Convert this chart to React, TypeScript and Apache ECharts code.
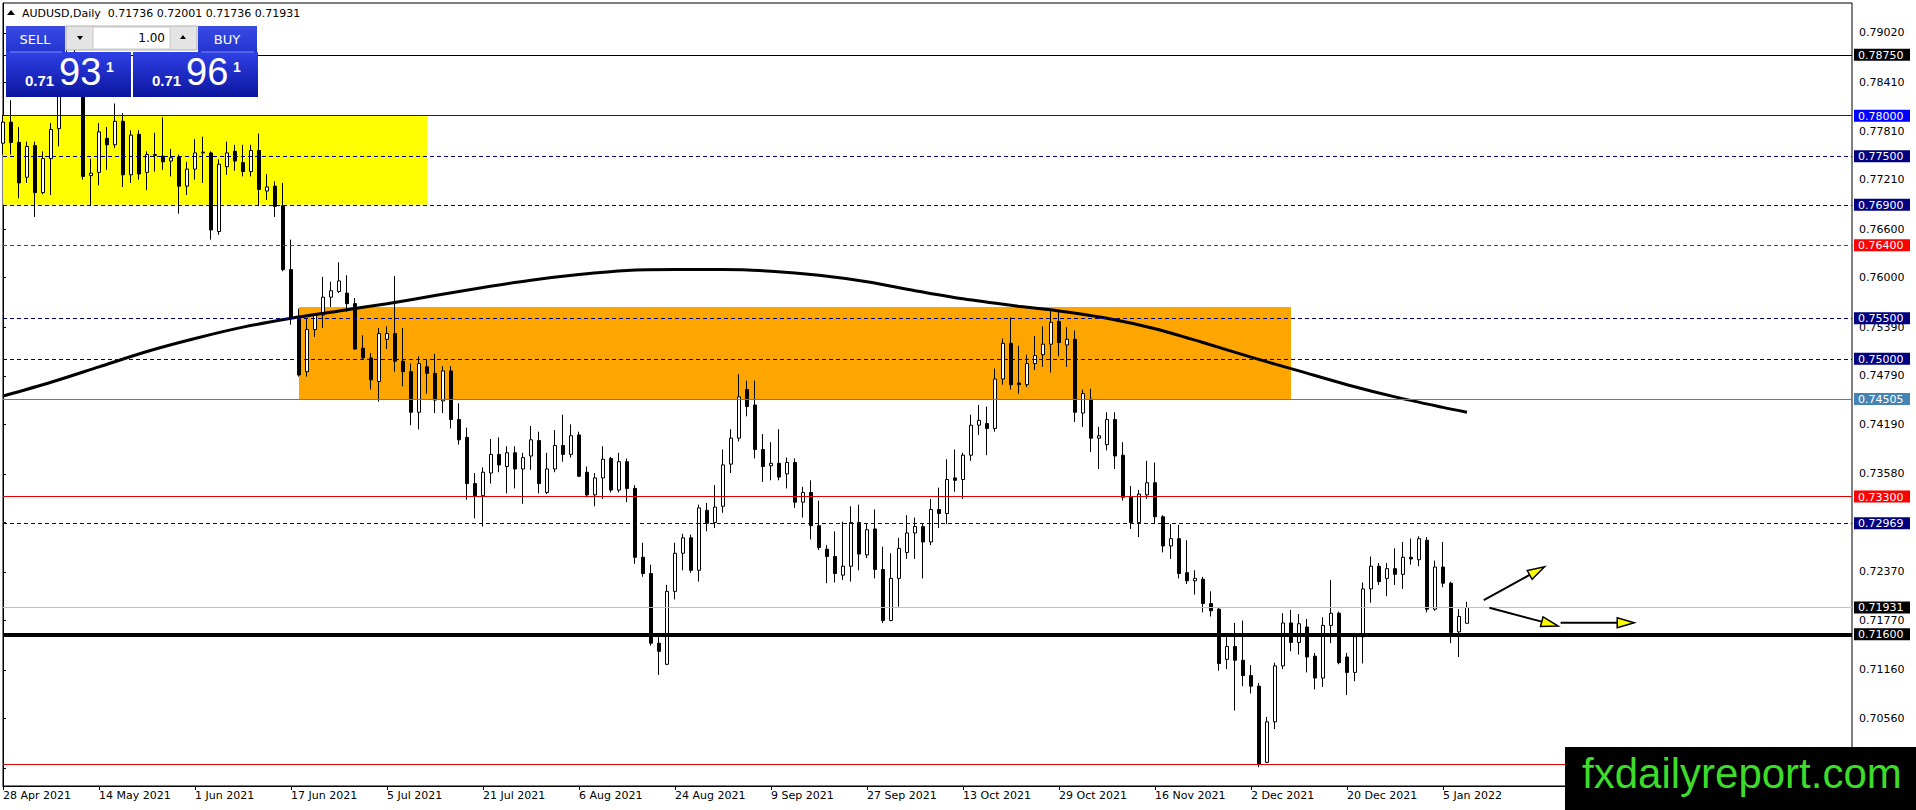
import React, { useEffect, useRef } from "react";
import * as echarts from "echarts";

// ---------- data (AUDUSD daily, bar index 0 = 28 Apr 2021) ----------
const opens = [
  0.7766, 0.7792, 0.7767, 0.7724, 0.7763, 0.7705, 0.7747, 0.7784, 0.7832, 0.7868,
  0.7842, 0.7726, 0.7730, 0.7772, 0.7764, 0.7793, 0.7727, 0.7777, 0.7730, 0.7752,
  0.7750, 0.7744, 0.7749, 0.7713, 0.7734, 0.7754, 0.7754, 0.7657, 0.7737, 0.7756,
  0.7742, 0.7731, 0.7757, 0.7707, 0.7713, 0.7689, 0.7610, 0.7551, 0.7484, 0.7536,
  0.7554, 0.7576, 0.7583, 0.7581, 0.7568, 0.7513, 0.7501, 0.7472, 0.7524, 0.7531,
  0.7497, 0.7484, 0.7434, 0.7490, 0.7482, 0.7448, 0.7485, 0.7425, 0.7403, 0.7346,
  0.7331, 0.7359, 0.7382, 0.7367, 0.7384, 0.7364, 0.7380, 0.7399, 0.7335, 0.7364,
  0.7393, 0.7382, 0.7406, 0.7360, 0.7332, 0.7353, 0.7377, 0.7338, 0.7373, 0.7340,
  0.7255, 0.7235, 0.7149, 0.7123, 0.7213, 0.7260, 0.7279, 0.7239, 0.7313, 0.7298,
  0.7318, 0.7370, 0.7402, 0.7462, 0.7443, 0.7388, 0.7368, 0.7371, 0.7358, 0.7372,
  0.7323, 0.7335, 0.7294, 0.7265, 0.7256, 0.7233, 0.7244, 0.7298, 0.7258, 0.7290,
  0.7240, 0.7177, 0.7229, 0.7261, 0.7285, 0.7293, 0.7274, 0.7314, 0.7309, 0.7353,
  0.7351, 0.7381, 0.7418, 0.7420, 0.7414, 0.7475, 0.7519, 0.7470, 0.7468, 0.7494,
  0.7505, 0.7518, 0.7546, 0.7517, 0.7524, 0.7433, 0.7450, 0.7402, 0.7394, 0.7425,
  0.7381, 0.7330, 0.7298, 0.7332, 0.7347, 0.7305, 0.7269, 0.7278, 0.7236, 0.7226,
  0.7228, 0.7198, 0.7191, 0.7129, 0.7145, 0.7128, 0.7109, 0.7096, 0.7002, 0.7052,
  0.7121, 0.7174, 0.7150, 0.7169, 0.7133, 0.7106, 0.7171, 0.7186, 0.7132, 0.7113,
  0.7157, 0.7216, 0.7244, 0.7229, 0.7241, 0.7234, 0.7255, 0.7252, 0.7276, 0.7191,
  0.7243, 0.7223, 0.7163, 0.71736,
];
const highs = [
  0.7801, 0.7819, 0.7786, 0.7768, 0.7768, 0.7756, 0.7791, 0.7842, 0.7889, 0.7885,
  0.7855, 0.7747, 0.7791, 0.7786, 0.7815, 0.7803, 0.7782, 0.7782, 0.7756, 0.7779,
  0.7798, 0.7759, 0.7752, 0.7743, 0.7771, 0.7774, 0.7756, 0.7746, 0.7768, 0.7764,
  0.7764, 0.7764, 0.7778, 0.7728, 0.7719, 0.7717, 0.7647, 0.7562, 0.7550, 0.7556,
  0.7601, 0.7595, 0.7619, 0.7603, 0.7575, 0.7529, 0.7507, 0.7538, 0.7540, 0.7602,
  0.7538, 0.7494, 0.7503, 0.7499, 0.7506, 0.7491, 0.7491, 0.7445, 0.7415, 0.7359,
  0.7366, 0.7401, 0.7403, 0.7392, 0.7392, 0.7384, 0.7417, 0.7410, 0.7384, 0.7412,
  0.7431, 0.7419, 0.7410, 0.7367, 0.7359, 0.7392, 0.7379, 0.7384, 0.7377, 0.7344,
  0.7273, 0.7246, 0.7159, 0.7221, 0.7273, 0.7284, 0.7283, 0.7320, 0.7322, 0.7344,
  0.7388, 0.7413, 0.7481, 0.7473, 0.7473, 0.7407, 0.7397, 0.7413, 0.7378, 0.7377,
  0.7342, 0.7350, 0.7325, 0.7270, 0.7287, 0.7299, 0.7318, 0.7320, 0.7297, 0.7314,
  0.7268, 0.7260, 0.7279, 0.7307, 0.7304, 0.7297, 0.7327, 0.7341, 0.7376, 0.7388,
  0.7384, 0.7431, 0.7443, 0.7441, 0.7488, 0.7525, 0.7551, 0.7516, 0.7505, 0.7528,
  0.7540, 0.7559, 0.7559, 0.7539, 0.7535, 0.7462, 0.7463, 0.7416, 0.7434, 0.7434,
  0.7397, 0.7343, 0.7338, 0.7374, 0.7372, 0.7307, 0.7296, 0.7295, 0.7276, 0.7239,
  0.7231, 0.7213, 0.7193, 0.7158, 0.7174, 0.7177, 0.7122, 0.7100, 0.7058, 0.7125,
  0.7186, 0.7190, 0.7185, 0.7179, 0.7137, 0.7181, 0.7227, 0.7188, 0.7137, 0.7158,
  0.7224, 0.7256, 0.7248, 0.7248, 0.7266, 0.7274, 0.7278, 0.7281, 0.7280, 0.7251,
  0.7274, 0.7225, 0.7191, 0.72001,
];
const lows = [
  0.7752, 0.7752, 0.7698, 0.7717, 0.7675, 0.7703, 0.7702, 0.7762, 0.7826, 0.7830,
  0.7721, 0.7689, 0.7714, 0.7733, 0.7760, 0.7712, 0.7717, 0.7721, 0.7708, 0.7731,
  0.7733, 0.7725, 0.7679, 0.7702, 0.7721, 0.7717, 0.7647, 0.7653, 0.7727, 0.7732,
  0.7725, 0.7725, 0.7689, 0.7696, 0.7675, 0.7608, 0.7542, 0.7478, 0.7478, 0.7527,
  0.7538, 0.7564, 0.7581, 0.7558, 0.7511, 0.7499, 0.7462, 0.7447, 0.7512, 0.7484,
  0.7466, 0.7418, 0.7413, 0.7457, 0.7433, 0.7433, 0.7414, 0.7394, 0.7326, 0.7303,
  0.7293, 0.7346, 0.7360, 0.7334, 0.7340, 0.7321, 0.7363, 0.7334, 0.7333, 0.7360,
  0.7373, 0.7378, 0.7354, 0.7329, 0.7318, 0.7327, 0.7335, 0.7335, 0.7323, 0.7247,
  0.7231, 0.7146, 0.7110, 0.7122, 0.7203, 0.7239, 0.7236, 0.7225, 0.7287, 0.7291,
  0.7310, 0.7359, 0.7398, 0.7429, 0.7377, 0.7348, 0.7350, 0.7350, 0.7340, 0.7316,
  0.7304, 0.7277, 0.7264, 0.7223, 0.7224, 0.7227, 0.7225, 0.7239, 0.7254, 0.7229,
  0.7174, 0.7176, 0.7194, 0.7253, 0.7253, 0.7229, 0.7270, 0.7291, 0.7296, 0.7336,
  0.7327, 0.7374, 0.7406, 0.7381, 0.7410, 0.7468, 0.7462, 0.7457, 0.7465, 0.7486,
  0.7490, 0.7483, 0.7503, 0.7490, 0.7422, 0.7416, 0.7385, 0.7364, 0.7387, 0.7364,
  0.7325, 0.7290, 0.7280, 0.7327, 0.7296, 0.7261, 0.7253, 0.7229, 0.7222, 0.7209,
  0.7187, 0.7182, 0.7115, 0.7117, 0.7066, 0.7096, 0.7087, 0.6996, 0.7001, 0.7043,
  0.7117, 0.7139, 0.7135, 0.7113, 0.7092, 0.7095, 0.7149, 0.7123, 0.7085, 0.7102,
  0.7124, 0.7199, 0.7221, 0.7207, 0.7221, 0.7216, 0.7246, 0.7244, 0.7187, 0.7189,
  0.7218, 0.7149, 0.7132, 0.71736,
];
const closes = [
  0.7792, 0.7767, 0.7717, 0.7762, 0.7705, 0.7747, 0.7783, 0.7832, 0.7868, 0.7842,
  0.7725, 0.7729, 0.7780, 0.7764, 0.7793, 0.7727, 0.7776, 0.7728, 0.7752, 0.7751,
  0.7743, 0.7748, 0.7713, 0.7734, 0.7754, 0.7755, 0.7659, 0.7740, 0.7754, 0.7744,
  0.7731, 0.7757, 0.7709, 0.7712, 0.7688, 0.7610, 0.7551, 0.7480, 0.7536, 0.7554,
  0.7576, 0.7584, 0.7596, 0.7568, 0.7512, 0.7501, 0.7474, 0.7531, 0.7531, 0.7497,
  0.7484, 0.7434, 0.7494, 0.7482, 0.7449, 0.7485, 0.7425, 0.7400, 0.7346, 0.7331,
  0.7360, 0.7382, 0.7369, 0.7384, 0.7364, 0.7378, 0.7400, 0.7346, 0.7364, 0.7393,
  0.7382, 0.7405, 0.7355, 0.7332, 0.7353, 0.7376, 0.7338, 0.7373, 0.7340, 0.7255,
  0.7235, 0.7149, 0.7139, 0.7213, 0.7260, 0.7279, 0.7239, 0.7316, 0.7297, 0.7317,
  0.7369, 0.7402, 0.7453, 0.7441, 0.7388, 0.7367, 0.7371, 0.7354, 0.7372, 0.7323,
  0.7335, 0.7294, 0.7267, 0.7256, 0.7235, 0.7244, 0.7298, 0.7259, 0.7289, 0.7240,
  0.7177, 0.7229, 0.7266, 0.7285, 0.7293, 0.7274, 0.7314, 0.7309, 0.7351, 0.7350,
  0.7381, 0.7418, 0.7424, 0.7414, 0.7475, 0.7519, 0.7468, 0.7468, 0.7494, 0.7504,
  0.7518, 0.7545, 0.7520, 0.7524, 0.7434, 0.7457, 0.7402, 0.7405, 0.7425, 0.7380,
  0.7329, 0.7298, 0.7333, 0.7347, 0.7305, 0.7269, 0.7278, 0.7235, 0.7226, 0.7229,
  0.7198, 0.7189, 0.7124, 0.7145, 0.7128, 0.7109, 0.7096, 0.7000, 0.7052, 0.7121,
  0.7174, 0.7150, 0.7173, 0.7132, 0.7106, 0.7171, 0.7186, 0.7125, 0.7113, 0.7157,
  0.7216, 0.7244, 0.7225, 0.7241, 0.7234, 0.7255, 0.7253, 0.7278, 0.7191, 0.7243,
  0.7223, 0.7162, 0.7182, 0.71931,
];

// moving average, sampled at bar indices
const maIdx = [0, 6, 12, 18, 24, 30, 36, 42, 48, 54, 60, 66, 72, 78, 84, 90, 96, 102, 108, 114, 120, 126, 132, 138, 144, 150, 156, 162, 168, 174, 180, 183];
const maVal = [0.7454, 0.7471, 0.7490, 0.7509, 0.7525, 0.7539, 0.7550, 0.7559, 0.7568, 0.7578, 0.7588, 0.7597, 0.7604, 0.7609, 0.7610, 0.7610, 0.7608, 0.7603, 0.7595, 0.7584, 0.7574, 0.7566, 0.7559, 0.7550, 0.7537, 0.7520, 0.7502, 0.7485, 0.7468, 0.7453, 0.7440, 0.7434];

// x-axis tick labels
const xTickIdx = [0, 12, 24, 36, 48, 60, 72, 84, 96, 108, 120, 132, 144, 156, 168, 180];
const xTickLabels = [
  "28 Apr 2021", "14 May 2021", "1 Jun 2021", "17 Jun 2021", "5 Jul 2021", "21 Jul 2021",
  "6 Aug 2021", "24 Aug 2021", "9 Sep 2021", "27 Sep 2021", "13 Oct 2021", "29 Oct 2021",
  "16 Nov 2021", "2 Dec 2021", "20 Dec 2021", "5 Jan 2022",
];

// price-axis tick labels
const yTickLabels = [0.7902, 0.7841, 0.7781, 0.7721, 0.766, 0.76, 0.7539, 0.7479, 0.7419, 0.7358, 0.7237, 0.7177, 0.7116, 0.7056];
const yTickMarks = [0.7902, 0.7841, 0.7781, 0.7721, 0.766, 0.76, 0.7539, 0.7479, 0.7419, 0.7358, 0.7298, 0.7237, 0.7177, 0.7116, 0.7056, 0.6995];

// horizontal levels
const levelPrices = [0.7875, 0.78, 0.775, 0.769, 0.764, 0.755, 0.75, 0.74505, 0.733, 0.72969, 0.71931, 0.716, 0.70];
const boxPrices = [0.7875, 0.78, 0.775, 0.769, 0.764, 0.755, 0.75, 0.74505, 0.733, 0.72969, 0.71931, 0.716];

// zones: [fromIdx, toIdx, topPrice, bottomPrice]
const yellowZone = [0, 53, 0.78, 0.769];
const orangeZone = [37, 161, 0.7564, 0.74505];

// arrows: [fromIdx, fromPrice, toIdx, toPrice]
const arrows = [
  [185.1, 0.72023, 192.7, 0.72434],
  [185.8, 0.71928, 194.4, 0.71702],
  [194.7, 0.71743, 203.9, 0.71743],
];

// ---------- styles ----------
const FONT = '"DejaVu Sans", Verdana, sans-serif';
const NAVY = "#000080";
const RED = "#ff0000";
const LEVEL_LINE = [
  { color: "#000000", width: 1, type: "solid" },
  { color: "#1010c8", width: 1, type: "solid" },
  { color: NAVY, width: 1, type: [4, 3] },
  { color: NAVY, width: 1, type: [4, 3] },
  { color: RED, width: 1, type: [4, 3] },
  { color: NAVY, width: 1, type: [4, 3] },
  { color: NAVY, width: 1, type: [4, 3] },
  { color: "#4682b4", width: 1, type: "solid" },
  { color: "#e00000", width: 1, type: "solid" },
  { color: NAVY, width: 1, type: [4, 3] },
  { color: "#c0c0c0", width: 1, type: "solid" },
  { color: "#000000", width: 4, type: "solid" },
  { color: "#e00000", width: 1, type: "solid" },
];
const BOX_COLORS = ["#000000", "#0000ff", NAVY, NAVY, RED, NAVY, NAVY, "#4682b4", RED, NAVY, "#000000", "#000000"];

const Y_MIN = 0.69728;
const Y_MAX = 0.7939;
const X_MIN = 0;
const X_MAX = 231.125;

export default function App() {
  const ref = useRef<HTMLDivElement>(null);

  useEffect(() => {
    document.body.style.margin = "0";
    const chart = echarts.init(ref.current as HTMLDivElement, null, { renderer: "svg" });

    const last = opens.length - 1;
    const header = `AUDUSD,Daily  ${opens[last].toFixed(5)} ${highs[last].toFixed(5)} ${lows[last].toFixed(5)} ${closes[last].toFixed(5)}`;

    const rich: Record<string, any> = {};
    boxPrices.forEach((_, i) => {
      rich["b" + i] = {
        backgroundColor: BOX_COLORS[i],
        color: "#ffffff",
        fontSize: 11,
        fontFamily: FONT,
        lineHeight: 13,
        padding: [1, 4, 0, 4],
        width: 48,
      };
    });

    const blueTab = {
      type: "linear", x: 0, y: 0, x2: 0, y2: 1,
      colorStops: [{ offset: 0, color: "#3a4be4" }, { offset: 1, color: "#2334cf" }],
    };
    const blueBox = {
      type: "linear", x: 0, y: 0, x2: 0, y2: 1,
      colorStops: [{ offset: 0, color: "#2f40e6" }, { offset: 1, color: "#0c169e" }],
    };
    const priceBox = (x0: number, big: string) => [
      { type: "rect", shape: { x: x0, y: 52, width: 125, height: 45 }, style: { fill: blueBox }, z: 100 },
      { type: "text", x: x0 + 19, y: 88, style: { text: "0.71", fill: "#fff", font: 'bold 15px "Liberation Sans", Arial, sans-serif', textVerticalAlign: "bottom" }, z: 101 },
      { type: "text", x: x0 + 53, y: 91, style: { text: big, fill: "#fff", font: '38px "Liberation Sans", Arial, sans-serif', textVerticalAlign: "bottom" }, z: 101 },
      { type: "text", x: x0 + 100, y: 60, style: { text: "1", fill: "#fff", font: 'bold 14px "Liberation Sans", Arial, sans-serif', textVerticalAlign: "top" }, z: 101 },
    ];

    const graphics: any[] = [
      { type: "polygon", shape: { points: [[7, 15], [15, 15], [11, 10]] }, style: { fill: "#000" }, z: 100 },
      { type: "text", x: 22, y: 13, style: { text: header, fill: "#000", font: `11px ${FONT}`, textVerticalAlign: "middle" }, z: 100 },
      // SELL tab
      { type: "rect", shape: { x: 6, y: 26, width: 59, height: 26 }, style: { fill: blueTab }, z: 100 },
      { type: "text", x: 35, y: 39, style: { text: "SELL", fill: "#fff", font: `13px ${FONT}`, textAlign: "center", textVerticalAlign: "middle" }, z: 101 },
      // BUY tab
      { type: "rect", shape: { x: 198, y: 26, width: 59, height: 26 }, style: { fill: blueTab }, z: 100 },
      { type: "text", x: 227, y: 39, style: { text: "BUY", fill: "#fff", font: `13px ${FONT}`, textAlign: "center", textVerticalAlign: "middle" }, z: 101 },
      // lot control
      { type: "rect", shape: { x: 66, y: 26, width: 131, height: 24 }, style: { fill: "#e4e4e4", stroke: "#b0b0b0", lineWidth: 1 }, z: 100 },
      { type: "rect", shape: { x: 93, y: 27, width: 77, height: 22 }, style: { fill: "#ffffff", stroke: "#c8c8c8", lineWidth: 1 }, z: 101 },
      { type: "polygon", shape: { points: [[77, 36], [83, 36], [80, 40]] }, style: { fill: "#000" }, z: 101 },
      { type: "polygon", shape: { points: [[180, 39], [186, 39], [183, 35]] }, style: { fill: "#000" }, z: 101 },
      { type: "text", x: 165, y: 38, style: { text: "1.00", fill: "#000", font: `12px ${FONT}`, textAlign: "right", textVerticalAlign: "middle" }, z: 102 },
      ...priceBox(6, "93"),
      ...priceBox(133, "96"),
      { type: "line", shape: { x1: 10, y1: 52, x2: 62, y2: 52 }, style: { stroke: "#7d8cf2", lineWidth: 1 }, z: 102 },
      { type: "line", shape: { x1: 201, y1: 52, x2: 254, y2: 52 }, style: { stroke: "#7d8cf2", lineWidth: 1 }, z: 102 },
      // watermark
      { type: "rect", shape: { x: 1565, y: 747, width: 351, height: 63 }, style: { fill: "#000" }, z: 100 },
      { type: "text", x: 1582, y: 773, style: { text: "fxdailyreport.com", fill: "#3ddc2a", font: '42px "Liberation Sans", Arial, sans-serif', textVerticalAlign: "middle" }, z: 101 },
    ];

    const option: any = {
      animation: false,
      backgroundColor: "#ffffff",
      textStyle: { fontFamily: FONT },
      grid: {
        left: 3, top: 3, width: 1849, height: 783,
        show: true, borderColor: "#000", borderWidth: 1, backgroundColor: "#fff",
        containLabel: false,
      },
      xAxis: {
        type: "value", min: X_MIN, max: X_MAX,
        axisLine: { show: true, lineStyle: { color: "#000" } },
        splitLine: { show: false },
        axisTick: { show: true, customValues: xTickIdx, length: 4, lineStyle: { color: "#000" } },
        axisLabel: {
          customValues: xTickIdx,
          formatter: (v: number) => {
            const i = xTickIdx.indexOf(Math.round(v));
            return i >= 0 ? xTickLabels[i] : "";
          },
          align: "left", margin: 4, fontSize: 11, color: "#000", fontFamily: FONT,
        },
      },
      yAxis: [
        {
          type: "value", position: "right", min: Y_MIN, max: Y_MAX, scale: true,
          axisLine: { show: true, lineStyle: { color: "#000" } },
          splitLine: { show: false },
          axisTick: { show: true, customValues: yTickMarks, length: 3, lineStyle: { color: "#000" } },
          axisLabel: {
            customValues: yTickLabels,
            formatter: (v: number) => v.toFixed(5),
            margin: 7, fontSize: 11, color: "#000", fontFamily: FONT,
          },
        },
        {
          type: "value", position: "right", min: Y_MIN, max: Y_MAX, scale: true,
          axisLine: { show: false }, axisTick: { show: false }, splitLine: { show: false },
          axisLabel: {
            customValues: boxPrices,
            formatter: (v: number) => {
              const i = boxPrices.findIndex((p) => Math.abs(p - v) < 1e-7);
              return i >= 0 ? `{b${i}|${v.toFixed(5)}}` : "";
            },
            margin: 2, rich,
          },
        },
      ],
      series: [
        {
          type: "candlestick",
          xAxisIndex: 0, yAxisIndex: 0,
          dimensions: ["idx", "open", "close", "lowest", "highest"],
          encode: { x: 0, y: [1, 2, 3, 4] },
          data: opens.map((o, i) => [i, o, closes[i], lows[i], highs[i]]),
          barWidth: 4,
          silent: true,
          z: 2,
          itemStyle: { color: "#ffffff", color0: "#000000", borderColor: "#000000", borderColor0: "#000000", borderWidth: 1 },
          markArea: {
            silent: true,
            z: 1,
            label: { show: false },
            data: [
              [
                { xAxis: yellowZone[0], yAxis: yellowZone[2], itemStyle: { color: "#ffff00", opacity: 1 } },
                { xAxis: yellowZone[1], yAxis: yellowZone[3] },
              ],
              [
                { xAxis: orangeZone[0], yAxis: orangeZone[2], itemStyle: { color: "#ffa500", opacity: 1 } },
                { xAxis: orangeZone[1], yAxis: orangeZone[3] },
              ],
            ],
          },
          markLine: {
            silent: true,
            z: 5,
            precision: 6,
            symbol: ["none", "none"],
            label: { show: false },
            data: levelPrices.map((p, i) => ({ yAxis: p, lineStyle: LEVEL_LINE[i] })),
          },
        },
        {
          type: "line",
          xAxisIndex: 0, yAxisIndex: 0,
          data: maIdx.map((x, i) => [x, maVal[i]]),
          smooth: 0.3,
          showSymbol: false,
          silent: true,
          z: 3,
          lineStyle: { color: "#000", width: 3 },
        },
        {
          type: "custom",
          xAxisIndex: 0, yAxisIndex: 0,
          data: arrows,
          encode: { x: [0, 2], y: [1, 3] },
          clip: false,
          silent: true,
          z: 6,
          renderItem: (params: any, api: any) => {
            const p1 = api.coord([api.value(0), api.value(1)]);
            const p2 = api.coord([api.value(2), api.value(3)]);
            const dx = p2[0] - p1[0];
            const dy = p2[1] - p1[1];
            const len = Math.sqrt(dx * dx + dy * dy) || 1;
            const ux = dx / len;
            const uy = dy / len;
            const hl = 17;
            const hw = 5;
            const bx = p2[0] - ux * hl;
            const by = p2[1] - uy * hl;
            return {
              type: "group",
              children: [
                { type: "line", shape: { x1: p1[0], y1: p1[1], x2: bx, y2: by }, style: { stroke: "#000", lineWidth: 2 } },
                {
                  type: "polygon",
                  shape: { points: [[p2[0], p2[1]], [bx - uy * hw, by + ux * hw], [bx + uy * hw, by - ux * hw]] },
                  style: { fill: "#ffff00", stroke: "#000", lineWidth: 1.5 },
                },
              ],
            };
          },
        },
      ],
      graphic: graphics,
    };

    chart.setOption(option);
    return () => chart.dispose();
  }, []);

  return <div ref={ref} style={{ width: 1916, height: 810 }} />;
}
